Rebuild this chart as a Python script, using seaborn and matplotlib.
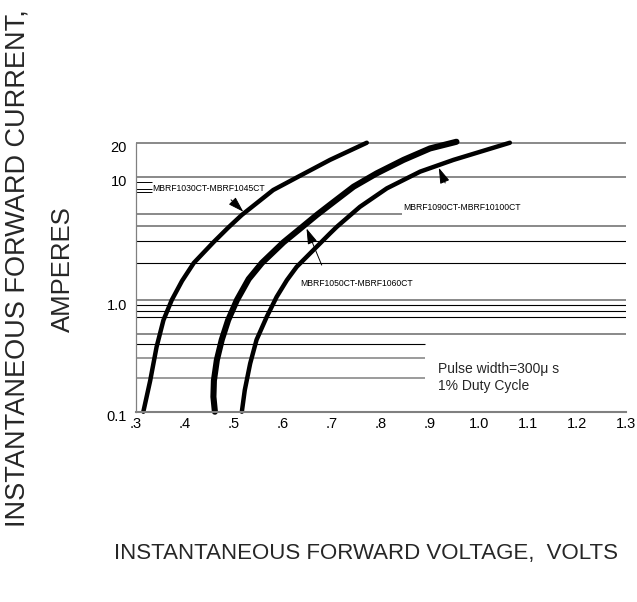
import numpy as np
import matplotlib
matplotlib.use("Agg")
import matplotlib.pyplot as plt
from matplotlib.transforms import ScaledTranslation
import seaborn as sns


# forward voltage (V) / forward current (A)
VF_1030 = [0.315, 0.329, 0.342, 0.356, 0.373, 0.394, 0.418, 0.458, 0.488, 0.516, 0.580, 0.631, 0.696, 0.771]
IF_1030 = [0.1, 0.19, 0.38, 0.66, 1.0, 1.43, 2.0, 2.94, 3.86, 4.9, 7.8, 10.0, 14.1, 20.0]

VF_1050 = [0.461, 0.458, 0.459, 0.465, 0.475, 0.488, 0.506, 0.530, 0.557, 0.601, 0.636, 0.669,
           0.700, 0.744, 0.791, 0.846, 0.900, 0.954]
IF_1050 = [0.1, 0.136, 0.19, 0.29, 0.44, 0.66, 1.0, 1.48, 2.0, 2.94, 3.82, 4.9,
           6.1, 8.3, 10.7, 14.1, 17.8, 20.4]

VF_1090 = [0.516, 0.522, 0.533, 0.546, 0.567, 0.587, 0.608, 0.628, 0.669, 0.696, 0.710, 0.757,
           0.812, 0.880, 0.948, 1.063]
IF_1090 = [0.1, 0.156, 0.27, 0.44, 0.71, 1.06, 1.45, 1.86, 2.71, 3.47, 3.93, 5.7,
           8.05, 11.1, 14.1, 20.0]

# printed grid lines (amps)
GRID_GRAY = [20, 10, 4, 1.0, 0.5]
GRID_BLACK = [3, 2, 0.9, 0.8, 0.7]
GRID_SHORT_GRAY = [0.3, 0.2]
GRID_SHORT_BLACK = [0.4]
GRID_LEADER = [5]
GRID_STUBS = [9, 8, 7.5]

X_TICKS = [0.3, 0.4, 0.5, 0.6, 0.7, 0.8, 0.9, 1.0, 1.1, 1.2, 1.3]
X_TICK_LABELS = [".3", ".4", ".5", ".6", ".7", ".8", ".9", "1.0", "1.1", "1.2", "1.3"]
Y_TICKS = [0.1, 1.0, 10, 20]
Y_TICK_LABELS = ["0.1", "1.0", "10", "20"]

# the printed axis is not a clean log scale: each decade has its own height
DECADES = [-1.0, 0.0, 1.0, np.log10(20)]
DECADE_POS = [0.0, 111.7, 235.0, 269.0]


def piecewise(a, xs, ys):
    a = np.asarray(a, dtype=float)
    out = np.interp(a, xs, ys)
    lo = (ys[1] - ys[0]) / (xs[1] - xs[0])
    hi = (ys[-1] - ys[-2]) / (xs[-1] - xs[-2])
    out = np.where(a < xs[0], ys[0] + (a - xs[0]) * lo, out)
    out = np.where(a > xs[-1], ys[-1] + (a - xs[-1]) * hi, out)
    return out


def forward(v):
    return piecewise(np.log10(np.clip(v, 1e-6, None)), DECADES, DECADE_POS)


def inverse(p):
    return 10 ** piecewise(p, DECADE_POS, DECADES)


sns.set_theme(style="white")
plt.rcParams["font.family"] = ["Liberation Sans", "DejaVu Sans"]

fig = plt.figure(figsize=(6.37, 6.02), dpi=100)
ax = fig.add_axes([0.2135, 0.3161, 0.7692, 0.4468])
ax.set_yscale("function", functions=(forward, inverse))
ax.set_xlim(0.3, 1.3)
ax.set_ylim(0.1, 20)

gray = "#808080"
ax.hlines(GRID_GRAY, 0.3, 1.3, colors=gray, linewidth=1.3, clip_on=False)
ax.hlines(GRID_BLACK, 0.3, 1.3, colors="black", linewidth=0.8)
ax.hlines(GRID_SHORT_GRAY, 0.3, 0.89, colors=gray, linewidth=1.1)
ax.hlines(GRID_SHORT_BLACK, 0.3, 0.89, colors="black", linewidth=0.8)
ax.hlines(GRID_LEADER, 0.3, 0.842, colors=gray, linewidth=1.3)
ax.hlines(GRID_STUBS, 0.3, 0.332, colors="black", linewidth=0.7)

for vf, i_f, lw in [(VF_1030, IF_1030, 3.2), (VF_1050, IF_1050, 4.4), (VF_1090, IF_1090, 3.2)]:
    sns.lineplot(x=vf, y=i_f, ax=ax, sort=False, estimator=None, color="black",
                 linewidth=lw, solid_capstyle="round", solid_joinstyle="round", clip_on=False)

label_kw = dict(fontsize=6.2, va="center", ha="left", color="black")
ax.text(0.333, 8.1, "MBRF1030CT-MBRF1045CT", **label_kw)
ax.text(0.845, 5.65, "MBRF1090CT-MBRF10100CT", **label_kw)
ax.text(0.635, 1.37, "MBRF1050CT-MBRF1060CT", **label_kw)

head = "-|>,head_length=0.8,head_width=0.25"
arrow_kw = dict(arrowstyle=head, color="black", lw=0.7, shrinkA=0, shrinkB=0, mutation_scale=12)
ax.annotate("", xy=(0.519, 5.2), xytext=(0.494, 6.5), arrowprops=arrow_kw)
ax.annotate("", xy=(0.648, 3.81), xytext=(0.679, 1.92), arrowprops=arrow_kw)
ax.annotate("", xy=(0.918, 12.0), xytext=(0.931, 8.9), arrowprops=arrow_kw)

ax.text(0.916, 0.243, "Pulse width=300\u03bc s", fontsize=10, va="center")
ax.text(0.916, 0.169, "1% Duty Cycle", fontsize=10, va="center")

ax.set_xticks(X_TICKS)
ax.set_xticklabels(X_TICK_LABELS)
ax.set_yticks(Y_TICKS)
ax.set_yticklabels(Y_TICK_LABELS)
ax.yaxis.set_minor_locator(matplotlib.ticker.NullLocator())
ax.tick_params(axis="both", length=0, labelsize=10.5, colors="black")
ax.tick_params(axis="y", pad=6.5)
ax.tick_params(axis="x", pad=4)
for lab in ax.get_yticklabels():
    lab.set_transform(lab.get_transform() + ScaledTranslation(0, -3 / 72, fig.dpi_scale_trans))

for side in ["top", "right"]:
    ax.spines[side].set_visible(False)
ax.spines["left"].set_color(gray)
ax.spines["left"].set_linewidth(0.9)
ax.spines["bottom"].set_color(gray)
ax.spines["bottom"].set_linewidth(1.5)
ax.set_xlabel("")
ax.set_ylabel("")

fig.text(18 / 637, 1 - 268 / 602, "INSTANTANEOUS FORWARD CURRENT,", rotation=90,
         ha="center", va="center", fontsize=19.5)
fig.text(63 / 637, 1 - 269 / 602, "AMPERES", rotation=90, ha="center", va="center", fontsize=18.5)
fig.text(366 / 637, 1 - 553 / 602, "INSTANTANEOUS FORWARD VOLTAGE,  VOLTS",
         ha="center", va="center", fontsize=16)

fig.savefig("out.png", dpi=100)
